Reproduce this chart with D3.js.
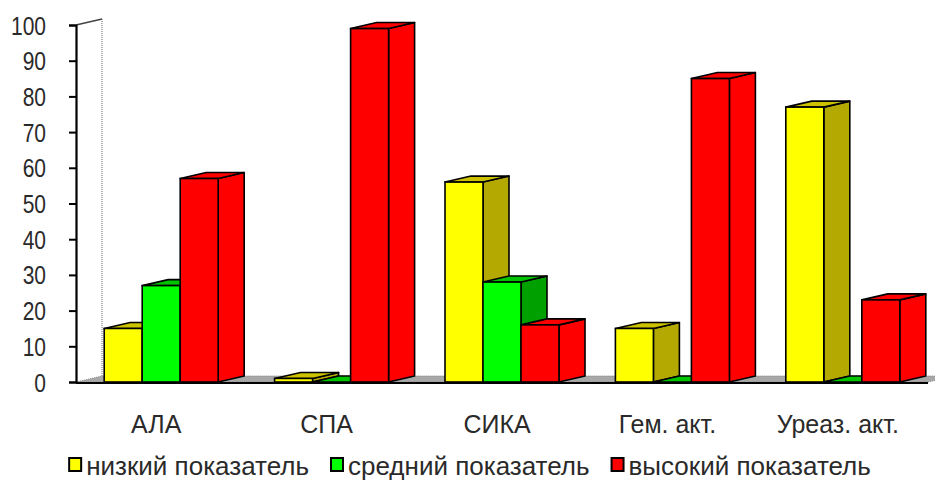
<!DOCTYPE html>
<html>
<head>
<meta charset="utf-8">
<script src="https://cdn.jsdelivr.net/npm/d3@7"></script>
<style>
  html, body { margin: 0; padding: 0; background: #fff; }
  svg { display: block; }
  text { font-family: "Liberation Sans", Arial, sans-serif; fill: #2a2a2a; }
</style>
</head>
<body>
<svg id="chart" width="935" height="490"></svg>
<script>
// Indicators and their share (%) per level
const categories = ["АЛА", "СПА", "СИКА", "Гем. акт.", "Уреаз. акт."];
const seriesNames = ["низкий показатель", "средний показатель", "высокий показатель"];
const lowValues = [15, 1, 56, 15, 77];
const midValues = [27, 0, 28, 0, 0];
const highValues = [57, 99, 16, 85, 23];
const yTickValues = [0, 10, 20, 30, 40, 50, 60, 70, 80, 90, 100];

const seriesValues = [lowValues, midValues, highValues];
const palette = [
  { front: "#ffff00", top: "#cdc200", side: "#b3a900" },
  { front: "#00ff00", top: "#00c400", side: "#00a000" },
  { front: "#ff0000", top: "#ff0000", side: "#ff0000" }
];

const svg = d3.select("#chart");
const left = 76, right = 928, bottom = 382, topY = 25;
const depthX = 26, depthY = -6;

const y = d3.scaleLinear().domain([0, 100]).range([bottom, topY]);
const x = d3.scaleBand().domain(categories).range([left, right]).paddingInner(0).paddingOuter(0);
const groupWidth = 114;
const inner = d3.scaleBand().domain(d3.range(seriesNames.length)).range([0, groupWidth]);

// condensed look: squeeze a label horizontally around its anchor
function narrow(sel, k) {
  sel.each(function () {
    const len = this.getComputedTextLength();
    d3.select(this).attr("textLength", len * k).attr("lengthAdjust", "spacingAndGlyphs");
  });
}

// floor
const poly = pts => "M" + pts.map(p => p.join(",")).join("L") + "Z";
svg.append("path")
  .attr("d", poly([[left, bottom], [right, bottom], [right + depthX, bottom + depthY], [left + depthX, bottom + depthY]]))
  .attr("fill", "#a8a8a8")
  .attr("stroke", "#8a8a8a")
  .attr("stroke-width", 1)
  .attr("stroke-dasharray", "1,1");

// back wall edges
svg.append("line")
  .attr("x1", left + depthX).attr("y1", y(100) + depthY)
  .attr("x2", left + depthX).attr("y2", bottom + depthY)
  .attr("stroke", "#9a9a9a").attr("stroke-width", 1.5).attr("stroke-dasharray", "1,1");
svg.append("line")
  .attr("x1", left).attr("y1", y(100))
  .attr("x2", left + depthX).attr("y2", y(100) + depthY)
  .attr("stroke", "#444").attr("stroke-width", 1.5);

// bars: side face, top face, front face
const bars = [];
categories.forEach((c, ci) => {
  seriesValues.forEach((vals, si) => {
    bars.push({ category: c, series: si, value: vals[ci] });
  });
});

const barG = svg.append("g").attr("class", "bars");
const barOffset = (x.bandwidth() - groupWidth) / 2;

bars.forEach(d => {
  const x0 = x(d.category) + barOffset + inner(d.series);
  const w = inner.bandwidth();
  const yt = y(d.value);
  const col = palette[d.series];
  const g = barG.append("g");
  g.append("path")
    .attr("d", poly([[x0 + w, bottom], [x0 + w + depthX, bottom + depthY], [x0 + w + depthX, yt + depthY], [x0 + w, yt]]))
    .attr("fill", col.side).attr("stroke", "#000").attr("stroke-width", 1.6).attr("stroke-linejoin", "round");
  g.append("path")
    .attr("d", poly([[x0, yt], [x0 + depthX, yt + depthY], [x0 + w + depthX, yt + depthY], [x0 + w, yt]]))
    .attr("fill", col.top).attr("stroke", "#000").attr("stroke-width", 1.6).attr("stroke-linejoin", "round");
  g.append("rect")
    .attr("x", x0).attr("y", yt).attr("width", w).attr("height", bottom - yt)
    .attr("fill", col.front).attr("stroke", "#000").attr("stroke-width", 1.6);
});

// y axis
const yAxis = svg.append("g").attr("transform", `translate(${left},0)`)
  .call(d3.axisLeft(y).tickValues(yTickValues).tickSize(7).tickPadding(23).tickFormat(d3.format("d")));
yAxis.select(".domain").attr("stroke", "#000").attr("stroke-width", 2.2);
yAxis.selectAll(".tick line").attr("stroke", "#000").attr("stroke-width", 2);
yAxis.selectAll(".tick text")
  .attr("font-size", 25).attr("fill", "#2a2a2a").attr("dy", "0.36em")
  .attr("text-anchor", "end")
  .style("font-family", "'Liberation Sans', Arial, sans-serif")
  .call(narrow, 0.84);

// x axis line
svg.append("line")
  .attr("x1", left).attr("y1", bottom + 1).attr("x2", right).attr("y2", bottom + 1)
  .attr("stroke", "#000").attr("stroke-width", 2);

// category labels
svg.append("g").selectAll("text").data(categories).join("text")
  .attr("x", d => x(d) + x.bandwidth() / 2 - 5)
  .attr("y", 433)
  .attr("text-anchor", "middle")
  .attr("font-size", 26)
  .text(d => d)
  .call(narrow, 0.96);

// legend
const legend = svg.append("g").attr("class", "legend");
const items = [];
seriesNames.forEach((name, i) => {
  const g = legend.append("g");
  g.append("rect").attr("x", 0).attr("y", -17).attr("width", 12).attr("height", 13)
    .attr("fill", palette[i].front).attr("stroke", "#000").attr("stroke-width", 2);
  const t = g.append("text").attr("x", 17).attr("y", 0).attr("font-size", 26).text(name);
  items.push({ g, w: 17 + t.node().getComputedTextLength() });
});
const gap = 22;
const total = d3.sum(items, d => d.w) + gap * (items.length - 1);
let lx = 470 - total / 2;
items.forEach(it => {
  it.g.attr("transform", `translate(${lx},475)`);
  lx += it.w + gap;
});
</script>
</body>
</html>
